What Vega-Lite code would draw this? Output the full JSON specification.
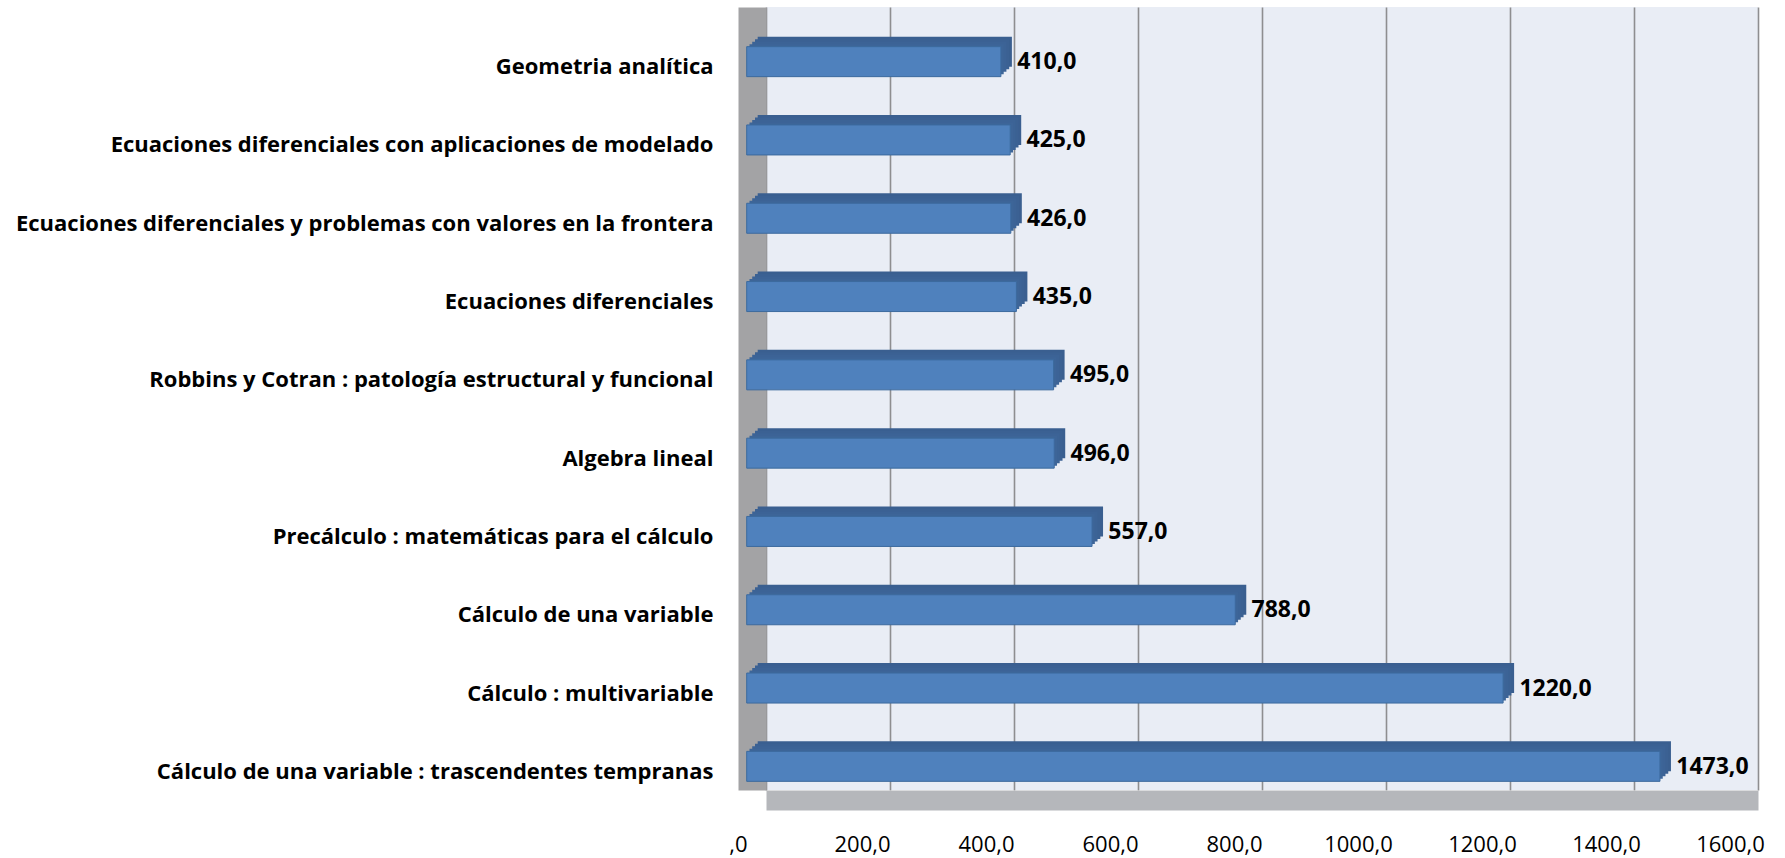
{
  "$schema": "https://vega.github.io/schema/vega-lite/v6.json",
  "autosize": "none",
  "padding": {"left": 766, "top": 7, "right": 27, "bottom": 68},
  "width": 992,
  "height": 783,
  "background": "white",
  "config": {
    "view": {"fill": "#E9EDF5", "stroke": null},
    "locale": {"number": {"decimal": ",", "thousands": ".", "grouping": [3], "currency": ["", " €"]}},
    "font": "Open Sans"
  },
  "data": {
    "values": [
      {"libro": "Geometria analítica", "prestamos": 410},
      {"libro": "Ecuaciones diferenciales con aplicaciones de modelado", "prestamos": 425},
      {"libro": "Ecuaciones diferenciales y problemas con valores en la frontera", "prestamos": 426},
      {"libro": "Ecuaciones diferenciales", "prestamos": 435},
      {"libro": "Robbins y Cotran : patología estructural y funcional", "prestamos": 495},
      {"libro": "Algebra lineal", "prestamos": 496},
      {"libro": "Precálculo : matemáticas para el cálculo", "prestamos": 557},
      {"libro": "Cálculo de una variable", "prestamos": 788},
      {"libro": "Cálculo : multivariable", "prestamos": 1220},
      {"libro": "Cálculo de una variable : trascendentes tempranas", "prestamos": 1473}
    ]
  },
  "encoding": {
    "y": {
      "field": "libro", "type": "nominal", "sort": null, "title": null,
      "scale": {"paddingInner": 0, "paddingOuter": 0},
      "axis": {
        "orient": "left", "offset": 14, "domainWidth": 28, "domainColor": "#A3A3A5",
        "ticks": false, "tickSize": 0, "labelPadding": 39, "labelOffset": 21,
        "labelFont": "Open Sans", "labelFontWeight": "bold", "labelFontSize": 22, "labelColor": "#000000",
        "labelLimit": 1000, "grid": false
      }
    },
    "x": {
      "field": "prestamos", "type": "quantitative", "title": null,
      "scale": {"domain": [0, 1600], "nice": false, "zero": true},
      "axis": {
        "orient": "bottom", "values": [0, 200, 400, 600, 800, 1000, 1200, 1400, 1600],
        "format": ".1f",
        "labelExpr": "datum.value == 0 ? ',0' : replace(datum.label, '.', ',')",
        "offset": 10, "domainWidth": 20, "domainColor": "#B5B7BB",
        "ticks": false, "tickSize": 0, "labelPadding": 34, "labelOffset": -28,
        "labelFont": "Open Sans", "labelFontSize": 22, "labelColor": "#000000",
        "labelFlush": false, "labelOverlap": false,
        "grid": true, "gridColor": "#8E8E90", "gridWidth": 1.6
      }
    }
  },
  "layer": [
    {"mark": {"type": "bar", "height": 30, "color": "#3A5F90", "xOffset": -8.3, "x2Offset": -8.3, "yOffset": 5.5, "y2Offset": 5.5}},
    {"mark": {"type": "bar", "height": 30, "color": "#3B6193", "xOffset": -11, "x2Offset": -11, "yOffset": 8, "y2Offset": 8}},
    {"mark": {"type": "bar", "height": 30, "color": "#3C6396", "xOffset": -13.8, "x2Offset": -13.8, "yOffset": 10.5, "y2Offset": 10.5}},
    {"mark": {"type": "bar", "height": 30, "color": "#3D6598", "xOffset": -16.5, "x2Offset": -16.5, "yOffset": 13, "y2Offset": 13}},
    {"mark": {"type": "bar", "height": 30, "color": "#4F81BD", "stroke": "#3C6A9E", "strokeWidth": 1, "xOffset": -19.3, "x2Offset": -19.3, "yOffset": 15.5, "y2Offset": 15.5}},
    {
      "mark": {"type": "text", "align": "left", "baseline": "middle", "dx": -3, "dy": 16, "font": "Open Sans", "fontWeight": "bold", "fontSize": 23, "color": "#000000"},
      "encoding": {"text": {"field": "prestamos", "type": "quantitative", "format": ".1f"}}
    }
  ]
}
